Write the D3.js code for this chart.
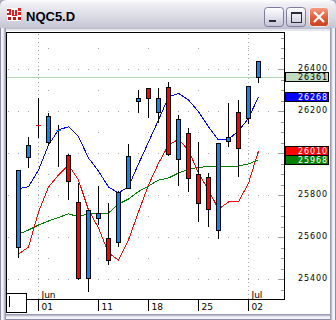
<!DOCTYPE html>
<html><head><meta charset="utf-8">
<script src="https://cdn.jsdelivr.net/npm/d3@7"></script>
<style>html,body{margin:0;padding:0;background:#fff;overflow:hidden}svg{display:block}</style>
</head><body>
<svg id="c" width="336" height="320"></svg>
<script>
const title = "NQC5.D";
const dates = ["05-30","05-31","06-01","06-04","06-05","06-06","06-07","06-08","06-11","06-12","06-13","06-14","06-15","06-18","06-19","06-20","06-21","06-22","06-25","06-26","06-27","06-28","06-29","07-02","07-03"];
const open  = [25552,25982,26134,26051,26108,25990,25765,25403,25689,25594,25575,25832,26246,26308,26194,26313,25971,26094,25899,25884,25633,26057,26194,26165,26361];
const high  = [25919,26078,26260,26192,26133,25995,25857,25729,25843,25760,25818,26043,26300,26310,26308,26340,26181,26118,26051,25903,26046,26237,26252,26319,26440];
const low   = [25507,25935,26078,26040,25938,25780,25400,25343,25662,25470,25559,25832,26197,26170,26149,25990,25848,25820,25678,25654,25594,26035,25892,26144,26340];
const close = [25919,26038,26133,26176,26110,25867,25403,25729,25713,25490,25816,25986,26260,26260,26260,25994,26160,25880,25760,25732,26046,26075,26022,26319,26440];
const maBlue  = [25829,25840,25919,26038,26110,26125,26078,25976,25914,25838,25810,25840,25948,26052,26157,26267,26284,26252,26197,26125,26062,26065,26105,26165,26268];
const maRed   = [25519,25552,25719,25838,25895,25943,25871,25729,25643,25524,25490,25586,25719,25848,25951,26038,26065,26014,25903,25824,25732,25767,25768,25856,26010];
const maGreen = [25614,25633,25657,25676,25693,25710,25697,25710,25713,25714,25757,25781,25816,25843,25871,25881,25905,25922,25932,25935,25938,25938,25938,25948,25968];
const lastPrice = 26361;
const tickDates  = ["06-01","06-11","06-18","06-25","07-02"];
const tickLabels = ["01","11","18","25","02"];
const monthStarts = ["06-01","07-02"];
const monthLabels = ["Jun","Jul"];
const priceTicks = [25400,25600,25800,26000,26200,26400];

const svg = d3.select("#c");
const W = 336, H = 320;
const L = 6.5, T = 32.5, R = 284.5, B = 299.5;
const x = d3.scaleLinear().domain([0, dates.length - 1]).range([18.5, 258.5]);
const y = d3.scaleLinear().domain([25400, 26400]).range([279, 69]);
const ry = v => Math.round(y(v));
const FONT = "DejaVu Sans, sans-serif";
const BLUE = "#1584e6", RED = "#ff0000";

// ---------- window frame ----------
const defs = svg.append("defs");
const tg = defs.append("linearGradient").attr("id","tg").attr("x1",0).attr("y1",0).attr("x2",0).attr("y2",1);
[[0,"#fdfdfe"],[0.15,"#ededf3"],[0.55,"#dadae4"],[0.85,"#c8c8d6"],[1,"#b4b4c8"]].forEach(s=>tg.append("stop").attr("offset",s[0]).attr("stop-color",s[1]));
const bg = defs.append("linearGradient").attr("id","bg").attr("x1",0).attr("y1",0).attr("x2",0).attr("y2",1);
[[0,"#ffffff"],[0.5,"#e4e4ee"],[1,"#c2c2d4"]].forEach(s=>bg.append("stop").attr("offset",s[0]).attr("stop-color",s[1]));
const cg = defs.append("linearGradient").attr("id","cg").attr("x1",0).attr("y1",0).attr("x2",0).attr("y2",1);
[[0,"#f4a088"],[0.5,"#e0603f"],[1,"#c8401f"]].forEach(s=>cg.append("stop").attr("offset",s[0]).attr("stop-color",s[1]));

svg.append("rect").attr("width",W).attr("height",H).attr("fill","#a9a8bd");
svg.append("path").attr("d","M0,7 Q0,0 7,0 H329 Q336,0 336,7 V31 H0 Z").attr("fill","url(#tg)");
const bands = [["#8c8ba3",0],["#f2f2f7",1],["#f2f2f7",2],["#e2e2ea",3],["#bdbdce",4],["#9d9cb2",5]];
bands.forEach(b=>{
  svg.append("rect").attr("x",b[1]).attr("y",28).attr("width",1).attr("height",H-28).attr("fill",b[0]);
  svg.append("rect").attr("x",W-1-b[1]).attr("y",28).attr("width",1).attr("height",H-28).attr("fill",b[0]);
  svg.append("rect").attr("x",b[1]).attr("y",H-1-b[1]).attr("width",W-2*b[1]).attr("height",1).attr("fill",b[0]);
});
svg.append("rect").attr("x",6).attr("y",29).attr("width",324).attr("height",2).attr("fill","#e6e6ee");
svg.append("rect").attr("x",6).attr("y",31).attr("width",324).attr("height",283).attr("fill","#ffffff");

// icon
const ic = svg.append("g");
ic.append("rect").attr("x",7).attr("y",8).attr("width",14).attr("height",13).attr("fill","#ffffff");
[[7,9,4,2],[9,11,2,2],[7,13,4,2],[12,10,2,5],[15,10,2,5],[12,15,5,1],[18,8,3,3],[18,12,3,3],[8,17,3,3],[13,17,3,3],[18,17,3,3]].forEach(r=>
  ic.append("rect").attr("x",r[0]).attr("y",r[1]).attr("width",r[2]).attr("height",r[3]).attr("fill", r[1]>15?"#d01010":"#e02020"));
svg.append("text").attr("x",26).attr("y",21).attr("font-family","Liberation Sans, Arial, sans-serif")
  .attr("font-weight","bold").attr("font-size",13).attr("fill","#000").text(title);

// buttons
[[264.5],[286.5]].forEach(b=>{
  svg.append("rect").attr("x",b[0]).attr("y",7.5).attr("width",19).attr("height",19).attr("rx",3)
    .attr("fill","url(#bg)").attr("stroke","#7c7b9c");
});
svg.append("rect").attr("x",269).attr("y",20).attr("width",7).attr("height",2).attr("fill","#2a2a3a");
svg.append("rect").attr("x",291.5).attr("y",12.5).attr("width",10).attr("height",10).attr("fill","none").attr("stroke","#2a2a3a");
svg.append("rect").attr("x",291).attr("y",12).attr("width",11).attr("height",2).attr("fill","#2a2a3a");
svg.append("rect").attr("x",309.5).attr("y",7.5).attr("width",19).attr("height",19).attr("rx",3)
  .attr("fill","url(#cg)").attr("stroke","#f4f0f0");
svg.append("path").attr("d","M314,12 L324,22 M324,12 L314,22").attr("stroke","#fff").attr("stroke-width",2.2);

// ---------- plot ----------
const plot = svg.append("g");
const gridCol = "#a8a8a8";
for (let v = 25400; v <= 26400; v += 200) {
  for (let k = -1; k <= 26; k++) {
    const px = Math.floor(x(k));
    if (px <= 7 || px >= 284) continue;
    plot.append("rect").attr("x",px).attr("y",ry(v)).attr("width",1).attr("height",1).attr("fill",gridCol);
  }
}
for (let v = 25500; v <= 26500; v += 200) {
  for (let k = 3; k <= 26; k += 5) {
    plot.append("rect").attr("x",Math.floor(x(k))).attr("y",ry(v)).attr("width",1).attr("height",1).attr("fill",gridCol);
  }
}
monthStarts.forEach(d=>{
  const px = x(dates.indexOf(d));
  plot.append("line").attr("x1",px).attr("x2",px).attr("y1",34).attr("y2",299)
    .attr("stroke",gridCol).attr("stroke-dasharray","1,3").attr("shape-rendering","crispEdges");
});

// last price line
plot.append("line").attr("x1",7).attr("x2",284).attr("y1",ry(lastPrice)+0.5).attr("y2",ry(lastPrice)+0.5)
  .attr("stroke","#b4d8b4").attr("shape-rendering","crispEdges");

// moving averages
const line = d3.line().x((d,i)=>x(i)).y(d=>y(d));
[[maGreen,"#008000"],[maRed,"#ff0000"],[maBlue,"#0000ff"]].forEach(m=>{
  plot.append("path").datum(m[0]).attr("d",line).attr("fill","none").attr("stroke",m[1])
    .attr("stroke-width",1).attr("shape-rendering","crispEdges");
});

// candles
dates.forEach((d,i)=>{
  const cx = x(i);
  const o = open[i], c = close[i];
  const col = c > o ? BLUE : RED;
  plot.append("line").attr("x1",cx).attr("x2",cx).attr("y1",ry(high[i])).attr("y2",ry(low[i])+1)
    .attr("stroke","#000").attr("shape-rendering","crispEdges");
  const top = ry(Math.max(o,c)), bot = ry(Math.min(o,c));
  if (bot - top < 1) {
    plot.append("line").attr("x1",cx-2.5).attr("x2",cx+2.5).attr("y1",top+0.5).attr("y2",top+0.5)
      .attr("stroke",col).attr("shape-rendering","crispEdges");
  } else {
    plot.append("rect").attr("x",cx-2).attr("y",top+0.5).attr("width",4).attr("height",bot-top)
      .attr("fill",col).attr("stroke","#000").attr("shape-rendering","crispEdges");
  }
});

// frame
const fr = svg.append("g").attr("stroke","#000").attr("shape-rendering","crispEdges").attr("fill","none");
fr.append("path").attr("d",`M${L},${293.5} V${T} H${R} V${B} H26.5`);
fr.append("rect").attr("x",6.5).attr("y",293.5).attr("width",20).attr("height",19);
fr.append("line").attr("x1",9.5).attr("x2",9.5).attr("y1",296).attr("y2",307);

// right axis ticks
for (let v = 25300; v <= 26550; v += 50) {
  const yy = ry(v) + 0.5;
  if (yy < 34 || yy > 298) continue;
  const len = (v % 200 === 0) ? 5 : 3;
  svg.append("line").attr("x1",284-len).attr("x2",284).attr("y1",yy).attr("y2",yy)
    .attr("stroke","#9a9a9a").attr("shape-rendering","crispEdges");
}
// value boxes (positions)
const boxes = [[lastPrice,"#c0dcc0","#000"],[maBlue[maBlue.length-1],"#0000ff","#fff"],
               [maRed[maRed.length-1],"#ff0000","#fff"],[maGreen[maGreen.length-1],"#008000","#fff"]];
const covered = v => boxes.some(b => Math.abs(ry(b[0]) - y(v)) < 6);
// price labels (skip ones hidden under value boxes)
priceTicks.filter(v => !covered(v)).forEach(v=>{
  svg.append("text").attr("x",328).attr("y",y(v)).attr("dy","0.3em").attr("text-anchor","end")
    .attr("font-family",FONT).attr("font-size",8).attr("letter-spacing",0.9).attr("fill","#000").text(v);
});
boxes.forEach(b=>{
  const yy = ry(b[0]);
  svg.append("rect").attr("x",285.5).attr("y",yy-4.5).attr("width",43).attr("height",9)
    .attr("fill",b[1]).attr("stroke","#000").attr("shape-rendering","crispEdges");
  svg.append("text").attr("x",328).attr("y",yy).attr("dy","0.36em").attr("text-anchor","end")
    .attr("font-family",FONT).attr("font-size",8).attr("letter-spacing",0.9).attr("fill",b[2]).text(b[0]);
});

// x axis ticks and labels
tickDates.forEach((d,j)=>{
  const px = x(dates.indexOf(d));
  svg.append("line").attr("x1",px).attr("x2",px).attr("y1",300).attr("y2",311)
    .attr("stroke","#000").attr("shape-rendering","crispEdges");
  svg.append("text").attr("x",px+3).attr("y",309.5).attr("font-family",FONT).attr("font-size",9)
    .attr("fill","#000").text(tickLabels[j]);
});
monthStarts.forEach((d,j)=>{
  const px = x(dates.indexOf(d));
  svg.append("text").attr("x",px+3).attr("y",298).attr("font-family",FONT).attr("font-size",9)
    .attr("fill","#000").text(monthLabels[j]);
});
</script>
</body></html>
